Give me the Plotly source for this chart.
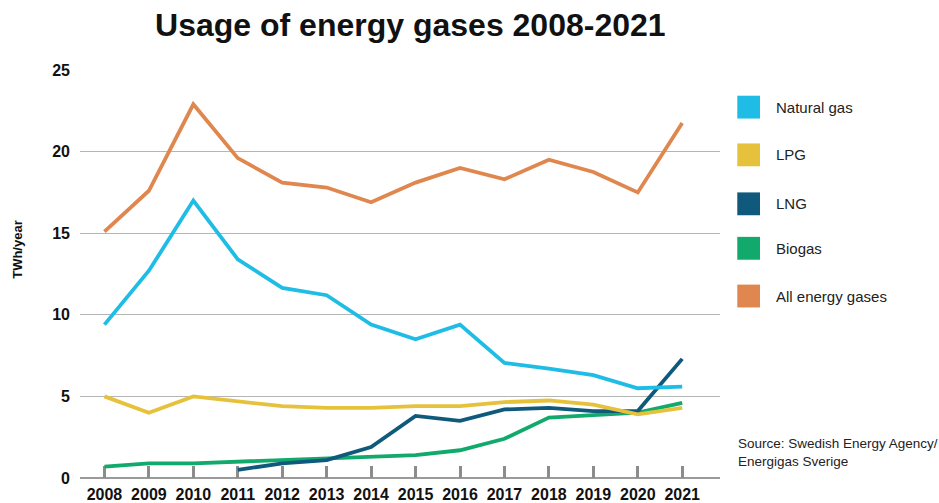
import plotly.graph_objects as go

years = list(range(2008, 2022))

natural_gas = [9.4, 12.7, 17.0, 13.4, 11.65, 11.2, 9.4, 8.5, 9.4, 7.05, 6.7, 6.3, 5.5, 5.6]
lpg = [5.0, 4.0, 5.0, 4.7, 4.4, 4.3, 4.3, 4.4, 4.4, 4.65, 4.75, 4.5, 3.9, 4.3]
lng = [None, None, None, 0.5, 0.9, 1.1, 1.9, 3.8, 3.5, 4.2, 4.3, 4.1, 4.1, 7.3]
biogas = [0.7, 0.9, 0.9, 1.0, 1.1, 1.2, 1.3, 1.4, 1.7, 2.4, 3.7, 3.85, 4.0, 4.6]
all_gases = [15.1, 17.6, 22.9, 19.6, 18.1, 17.8, 16.9, 18.1, 19.0, 18.3, 19.5, 18.75, 17.5, 21.75]

series_names = ["Natural gas", "LPG", "LNG", "Biogas", "All energy gases"]
series_values = [natural_gas, lpg, lng, biogas, all_gases]
series_colors = ["#1fbde6", "#e6c23c", "#0f5a7c", "#11a96c", "#df874e"]

fig = go.Figure()

# draw order: LNG/biogas underneath, totals on top
for idx in [3, 2, 1, 0, 4]:
    fig.add_trace(go.Scatter(
        x=years, y=series_values[idx], name=series_names[idx],
        mode="lines", line=dict(color=series_colors[idx], width=3.8),
        connectgaps=False, showlegend=False,
    ))

# Legend: colored squares with labels, to the right of the plot area
legend_rows = [0.909, 0.792, 0.672, 0.563, 0.446]
for yc, name, color in zip(legend_rows, series_names, series_colors):
    fig.add_shape(type="rect", xref="paper", yref="paper",
                  x0=1.027, x1=1.0625, y0=yc - 0.028, y1=yc + 0.028,
                  fillcolor=color, line=dict(width=0))
    fig.add_annotation(xref="paper", yref="paper", x=1.085, y=yc,
                       text=name, showarrow=False, xanchor="left", yanchor="middle",
                       font=dict(family="Liberation Sans, Arial", size=15, color="#222"))

fig.add_annotation(xref="paper", yref="paper", x=1.025, y=0.063,
                   text="Source: Swedish Energy Agency/<br>Energigas Sverige",
                   showarrow=False, xanchor="left", yanchor="middle", align="left",
                   font=dict(family="Liberation Sans, Arial", size=13.5, color="#222"))

# y-axis title
fig.add_annotation(xref="paper", yref="paper", x=-0.098, y=0.56,
                   text="<b>TWh/year</b>", textangle=-90, showarrow=False,
                   xanchor="center", yanchor="middle",
                   font=dict(family="Liberation Sans, Arial", size=13, color="#111"))

fig.update_layout(
    width=939, height=503,
    paper_bgcolor="white", plot_bgcolor="white",
    margin=dict(l=80, r=219, t=70, b=25),
    title=dict(text="<b>Usage of energy gases 2008-2021</b>",
               x=0.437, xanchor="center", y=0.95, yanchor="middle",
               font=dict(family="Liberation Sans, Arial", size=32, color="#111")),
    font=dict(family="Liberation Sans, Arial", color="#111"),
)

fig.update_xaxes(
    range=[2007.45, 2021.85], tickmode="array", tickvals=years,
    ticktext=[f"<b>{y}</b>" for y in years],
    tickfont=dict(size=16, color="#111"),
    ticks="inside", ticklen=12, tickwidth=3, tickcolor="#8c8c8c",
    showgrid=False, showline=False, zeroline=False,
    ticklabelstandoff=5,
    layer="below traces", automargin=False,
)

fig.update_yaxes(
    range=[0, 25], tickvals=[0, 5, 10, 15, 20, 25],
    ticktext=["<b>0</b>", "<b>5</b>", "<b>10</b>", "<b>15</b>", "<b>20</b>", "<b>25</b>"],
    tickfont=dict(size=16, color="#111"),
    showgrid=True, gridcolor="#b5b5b5", gridwidth=1.2,
    zeroline=True, zerolinecolor="#9a9a9a", zerolinewidth=2,
    ticklabelstandoff=9,
    layer="below traces", automargin=False,
)

fig.write_html("out.html")
